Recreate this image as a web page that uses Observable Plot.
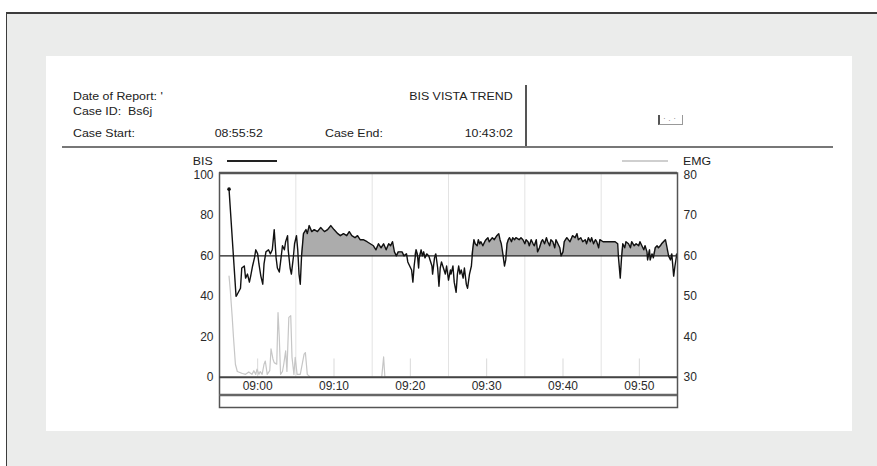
<!DOCTYPE html>
<html>
<head>
<meta charset="utf-8">
<script src="https://cdn.jsdelivr.net/npm/d3@7"></script>
<script src="https://cdn.jsdelivr.net/npm/@observablehq/plot@0.6"></script>
<style>
  html, body { margin: 0; padding: 0; background: #fff; }
  body { width: 877px; height: 466px; position: relative; overflow: hidden;
         font-family: "Liberation Sans", Arial, sans-serif; color: #222; }
  .sheet { position: absolute; left: 6px; top: 12px; right: 0; bottom: 0;
           background: #ebeceb; border-top: 2px solid #3c3c3c; border-left: 1.5px solid #3c3c3c; }
  .page { position: absolute; left: 46px; top: 56px; width: 806px; height: 375px; background: #fff; }
  .t { position: absolute; font-size: 10.5px; line-height: 12px; white-space: nowrap;
       transform: scaleX(1.18); transform-origin: left center; }
  .t.r { transform-origin: right center; }
  .hr { position: absolute; background: #777; }
  .icon { position: absolute; left: 658px; top: 115px; width: 22px; height: 9px;
          border-left: 2px solid #555; border-right: 1px solid #999; border-bottom: 1px solid #999;
          font-size: 7px; line-height: 7px; color: #555; text-align: center; letter-spacing: 3px; }
  #chart { position: absolute; left: 170px; top: 165px; }
  .leg { position: absolute; font-size: 11px; line-height: 12px; transform: scaleX(1.12); }
  .legline { position: absolute; height: 1.5px; }
</style>
</head>
<body>
<div class="sheet"></div>
<div class="page"></div>

<!-- report header -->
<span class="t" style="left:73px; top:90px;">Date of Report: '</span>
<span class="t r" style="right:364px; top:90px;">BIS VISTA TREND</span>
<span class="t" style="left:73px; top:105px;">Case ID:&nbsp; Bs6j</span>
<span class="t" style="left:73px; top:127px;">Case Start:</span>
<span class="t r" style="right:614px; top:127px;">08:55:52</span>
<span class="t" style="left:325px; top:127px;">Case End:</span>
<span class="t r" style="right:364px; top:127px;">10:43:02</span>
<div class="hr" style="left:525px; top:85px; width:2px; height:62px; background:#555;"></div>
<div class="hr" style="left:62px; top:146px; width:771px; height:2px;"></div>
<div class="icon">·.·</div>

<!-- series key -->
<span class="leg" style="right:664px; top:155px; transform-origin:right center;">BIS</span>
<div class="legline" style="left:227px; top:160px; width:50px; background:#222;"></div>
<div class="legline" style="left:622px; top:160px; width:46px; background:#cfcfcf;"></div>
<span class="leg" style="left:683px; top:155px; transform-origin:left center;">EMG</span>

<div id="chart"></div>

<script>
// Bispectral index trend, one sample per row
const bisTimes = [
  "08:56:15","08:57:10","08:57:20","08:57:45","08:57:55","08:58:15","08:58:25","08:58:40","08:58:55","08:59:05",
  "08:59:20","08:59:35","08:59:45","09:00:00","09:00:10","09:00:25","09:00:40","09:00:50","09:01:05","09:01:25",
  "09:01:40","09:01:55","09:02:10","09:02:25","09:02:35","09:02:50","09:03:00","09:03:15","09:03:30","09:03:40",
  "09:03:55","09:04:00","09:04:15","09:04:25","09:04:40","09:04:50","09:05:05","09:05:15","09:05:25","09:05:35",
  "09:05:45","09:06:00","09:06:20","09:06:30","09:06:45","09:07:05","09:07:25","09:07:50","09:08:15","09:08:45",
  "09:09:10","09:09:35","09:10:00","09:10:30","09:10:50","09:11:15","09:11:40","09:12:00","09:12:20","09:12:45",
  "09:13:05","09:13:25","09:13:50","09:14:20","09:14:45","09:15:10","09:15:30","09:15:50","09:16:10","09:16:30",
  "09:16:50","09:17:10","09:17:25","09:17:40","09:17:55","09:18:10","09:18:25","09:18:55","09:19:10","09:19:30",
  "09:19:40","09:19:55","09:20:10","09:20:20","09:20:30","09:20:45","09:20:55","09:21:05","09:21:10","09:21:25",
  "09:21:35","09:21:45","09:21:55","09:22:10","09:22:25","09:22:35","09:22:50","09:22:55","09:23:10","09:23:20",
  "09:23:35","09:23:45","09:23:55","09:24:05","09:24:20","09:24:35","09:24:45","09:25:00","09:25:15","09:25:20",
  "09:25:35","09:25:45","09:26:00","09:26:10","09:26:20","09:26:30","09:26:40","09:26:55","09:27:05","09:27:20",
  "09:27:30","09:27:45","09:28:00","09:28:10","09:28:20","09:28:30","09:28:45","09:28:55","09:29:05","09:29:15",
  "09:29:30","09:29:45","09:29:55","09:30:10","09:30:20","09:30:45","09:31:00","09:31:20","09:31:35","09:31:45",
  "09:31:55","09:32:05","09:32:20","09:32:30","09:32:40","09:32:50","09:33:00","09:33:15","09:33:25","09:33:40",
  "09:33:50","09:34:15","09:34:30","09:34:45","09:35:00","09:35:10","09:35:25","09:35:35","09:35:50","09:36:05",
  "09:36:15","09:36:30","09:36:40","09:36:55","09:37:10","09:37:20","09:37:35","09:37:50","09:38:00","09:38:15",
  "09:38:25","09:38:40","09:38:55","09:39:05","09:39:20","09:39:35","09:39:45","09:40:00","09:40:10","09:40:30",
  "09:40:55","09:41:15","09:41:35","09:41:50","09:42:00","09:42:20","09:42:35","09:42:55","09:43:05","09:43:20",
  "09:43:35","09:43:45","09:44:00","09:44:15","09:44:25","09:44:40","09:44:50","09:45:15","09:45:30","09:46:00",
  "09:46:25","09:46:50","09:47:10","09:47:15","09:47:30","09:47:40","09:47:50","09:48:05","09:48:15","09:48:35",
  "09:48:50","09:49:00","09:49:20","09:49:35","09:49:55","09:50:05","09:50:20","09:50:35","09:50:45","09:51:00",
  "09:51:05","09:51:20","09:51:25","09:51:40","09:51:50","09:52:05","09:52:20","09:52:30","09:52:45","09:52:55",
  "09:53:10","09:53:25","09:53:35","09:53:50","09:54:05","09:54:15","09:54:30","09:54:40","09:54:55"
];
const bisValues = [
  93,40,41,44,54,55,49,51,47,50,
  55,59,63,61,56,50,46,56,62,63,
  61,63,73,59,54,52,57,65,63,67,
  70,63,54,51,59,66,70,63,51,46,
  60,71,73,71,75,72,73,72,74,72,
  73,75,73,71,70,71,70,72,70,69,
  70,68,68,67,66,65,63,66,64,66,
  63,66,65,67,62,60,62,62,60,61,
  57,55,53,47,55,63,61,54,59,63,
  60,62,59,61,60,58,55,51,59,61,
  54,45,54,57,54,51,55,48,53,51,
  55,47,42,51,55,51,53,49,54,46,
  44,51,55,63,68,66,65,68,66,67,
  65,67,68,69,67,69,68,70,71,68,
  66,62,55,58,66,68,69,67,69,68,
  69,68,69,68,66,68,67,65,68,66,
  65,68,62,64,67,68,66,69,67,65,
  68,67,64,68,66,64,60,62,67,69,
  67,70,69,71,68,69,67,68,66,69,
  67,69,66,68,67,64,68,67,67,67,
  67,67,66,60,49,59,66,64,67,66,
  64,67,65,66,65,67,65,63,65,62,
  58,63,58,61,59,64,65,64,65,66,
  67,68,65,60,58,61,50,55,61
];

// EMG power (dB); readings under 30 sit on the scale floor
const emgTimes = [
  "08:56:15","08:56:25","08:56:40","08:56:50","08:57:05","08:57:20","08:58:00","08:58:25","08:58:50","08:59:15",
  "08:59:30","08:59:45","08:59:55","09:00:10","09:00:20","09:00:35","09:00:50","09:01:00","09:01:15","09:01:35",
  "09:01:45","09:02:00","09:02:10","09:02:30","09:02:40","09:02:50","09:03:00","09:03:15","09:03:25","09:03:40",
  "09:03:50","09:04:05","09:04:20","09:04:30","09:04:45","09:04:55","09:05:10","09:05:35","09:06:05","09:06:15",
  "09:06:30","09:06:55","09:16:15","09:16:30","09:16:40","09:55:00"
];
const emgValues = [
  55,51.4,44.8,39.8,33.2,31.4,30.9,30.7,31.3,30.7,
  31.6,30.7,32,30.7,31.4,30.7,33.2,34,30.7,31.6,
  37,34.5,33.6,33.2,46,39.8,30.7,31.4,33.2,36.5,
  31.4,44.8,45.2,34.9,30.7,34.9,30.7,30.7,35.7,36.1,
  30.7,30,30,35,30,30
];

// Axes and guides
const timeStart = "08:55:00";
const timeEnd = "09:55:00";
const timeLabels = ["09:00:00","09:10:00","09:20:00","09:30:00","09:40:00","09:50:00"];
const gridTimes = ["09:05:00","09:15:00","09:25:00","09:35:00","09:45:00"];
const bisTicks = [0, 20, 40, 60, 80, 100];
const bisReference = 60;
const shadeFrom = "09:05:45";   // shading above the reference starts once the trend settles
const emgFloor = 30;            // EMG axis runs 30..80 against BIS 0..100

const parse = d3.timeParse("%H:%M:%S");
const bis = bisTimes.map((t, i) => ({time: parse(t), value: bisValues[i]}));
const emg = emgTimes.map((t, i) => ({time: parse(t), value: emgValues[i]}));
const shaded = bis.filter(d => d.time >= parse(shadeFrom));
const emgToBis = v => (v - emgFloor) * 2;

const chart = Plot.plot({
  width: 560,
  height: 250,
  marginLeft: 49,
  marginRight: 53,
  marginTop: 7.5,
  marginBottom: 8,
  x: {type: "time", domain: [parse(timeStart), parse(timeEnd)], axis: null},
  y: {domain: [-15, 101]},
  style: {fontFamily: "'Liberation Sans', Arial, sans-serif", fontSize: "12px", color: "#2a2a2a", background: "transparent"},
  marks: [
    Plot.ruleX(gridTimes.map(parse), {y1: 0, y2: 101, stroke: "#e3e3e3", strokeWidth: 1}),
    Plot.ruleX(timeLabels.map(parse), {y1: 0, y2: 9, stroke: "#d9d9d9", strokeWidth: 1}),
    Plot.areaY(shaded, {x: "time", y1: bisReference, y2: d => Math.max(d.value, bisReference), fill: "#acacac"}),
    Plot.ruleY([bisReference], {stroke: "#1a1a1a", strokeWidth: 1.2}),
    Plot.lineY(emg, {x: "time", y: d => emgToBis(d.value), stroke: "#c6c6c6", strokeWidth: 1.2}),
    Plot.lineY(bis, {x: "time", y: "value", stroke: "#111", strokeWidth: 1.4}),
    Plot.dot(bis.slice(0, 1), {x: "time", y: "value", r: 1.8, fill: "#111"}),
    Plot.axisY(bisTicks, {anchor: "left", tickSize: 0, tickPadding: 6, label: null}),
    Plot.axisY(bisTicks, {anchor: "right", tickSize: 0, tickPadding: 6, label: null, tickFormat: d => String(emgFloor + d / 2)}),
    Plot.text(timeLabels.map(parse), {x: d => d, y: -4.6, text: d3.timeFormat("%H:%M"), fontSize: 12}),
    Plot.frame({stroke: "#555", strokeWidth: 1.5}),
    Plot.ruleY([101], {stroke: "#555", strokeWidth: 2.5}),
    Plot.ruleY([0], {stroke: "#444", strokeWidth: 2}),
    Plot.ruleY([-8.8], {stroke: "#666", strokeWidth: 2.5})
  ]
});
document.getElementById("chart").append(chart);
</script>
</body>
</html>
